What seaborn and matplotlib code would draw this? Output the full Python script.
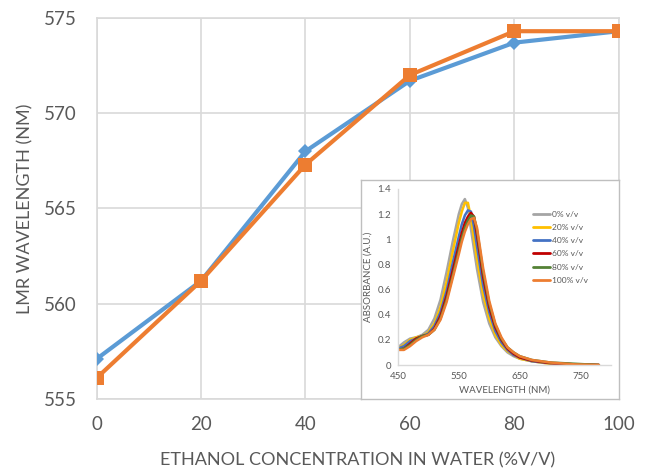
import matplotlib
matplotlib.use("Agg")
import matplotlib.pyplot as plt
from matplotlib.lines import Line2D
from matplotlib.ticker import FuncFormatter
import numpy as np
import pandas as pd
import seaborn as sns

# Main chart data
concentration = [0, 20, 40, 60, 80, 100]
lmr_blue = [557.1, 561.2, 568.0, 571.7, 573.7, 574.3]
lmr_orange = [556.1, 561.2, 567.3, 572.0, 574.3, 574.3]

# Inset spectra
wavelength = [450, 460, 470, 480, 490, 500, 510, 520, 530, 540, 550, 555, 560,
              565, 570, 575, 580, 590, 600, 610, 620, 630, 640, 650, 670, 700,
              740, 780]
abs_0 = [0.14, 0.18, 0.21, 0.22, 0.24, 0.28, 0.37, 0.52, 0.74, 0.98, 1.20, 1.28,
         1.32, 1.25, 1.08, 0.92, 0.76, 0.50, 0.33, 0.22, 0.15, 0.10, 0.07, 0.05,
         0.03, 0.01, 0.005, 0.0]
abs_20 = [0.13, 0.16, 0.20, 0.22, 0.23, 0.26, 0.33, 0.46, 0.66, 0.90, 1.13, 1.22,
          1.29, 1.29, 1.17, 1.00, 0.84, 0.56, 0.37, 0.24, 0.16, 0.11, 0.08, 0.05,
          0.03, 0.01, 0.005, 0.0]
abs_40 = [0.13, 0.15, 0.19, 0.21, 0.23, 0.25, 0.31, 0.42, 0.59, 0.81, 1.02, 1.12,
          1.19, 1.23, 1.22, 1.10, 0.94, 0.63, 0.42, 0.27, 0.18, 0.12, 0.08, 0.06,
          0.03, 0.015, 0.005, 0.0]
abs_60 = [0.12, 0.13, 0.17, 0.21, 0.23, 0.24, 0.29, 0.39, 0.55, 0.75, 0.95, 1.05,
          1.13, 1.18, 1.21, 1.18, 1.03, 0.70, 0.46, 0.30, 0.20, 0.13, 0.09, 0.06,
          0.035, 0.015, 0.005, 0.0]
abs_80 = [0.12, 0.13, 0.16, 0.20, 0.23, 0.24, 0.28, 0.37, 0.52, 0.71, 0.91, 1.01,
          1.09, 1.15, 1.19, 1.18, 1.07, 0.74, 0.49, 0.32, 0.21, 0.14, 0.10, 0.07,
          0.04, 0.02, 0.01, 0.0]
abs_100 = [0.12, 0.12, 0.15, 0.19, 0.22, 0.24, 0.28, 0.36, 0.50, 0.69, 0.88, 0.98,
           1.06, 1.12, 1.16, 1.17, 1.09, 0.77, 0.51, 0.33, 0.22, 0.14, 0.10, 0.07,
           0.04, 0.02, 0.005, 0.0]
spectra_labels = ['0% v/v', '20% v/v', '40% v/v', '60% v/v', '80% v/v', '100% v/v']

sns.set_theme(style='white')
plt.rcParams['font.family'] = ['Lato', 'DejaVu Sans']

txt = '#595959'
gridc = '#d9d9d9'
blue = '#5b9bd5'
orange = '#ed7d31'
spec_colors = ['#a5a5a5', '#ffc000', '#4472c4', '#c00000', '#548235', '#ed7d31']

fig = plt.figure(figsize=(6.48, 4.70), dpi=100)
ax = fig.add_axes([0.149, 0.151, 0.806, 0.811])

main = pd.DataFrame({'conc': concentration, 'blue': lmr_blue, 'orange': lmr_orange})
sns.lineplot(data=main, x='conc', y='blue', ax=ax, color=blue, lw=3,
             marker='D', markersize=7, markeredgewidth=0, zorder=3)
sns.lineplot(data=main, x='conc', y='orange', ax=ax, color=orange, lw=3,
             marker='s', markersize=10, markeredgewidth=0, zorder=4)

ax.set_xlim(0, 100)
ax.set_ylim(555, 575)
ax.set_xticks(concentration)
ax.set_yticks([555, 560, 565, 570, 575])
ax.grid(True, color=gridc, lw=1.2)
for s in ax.spines.values():
    s.set_color(gridc)
    s.set_linewidth(1.2)
ax.tick_params(length=0, labelsize=13.5, colors=txt)
ax.tick_params(axis='y', pad=14)
ax.tick_params(axis='x', pad=12)
ax.set_xlabel('ETHANOL CONCENTRATION IN WATER (%V/V)', fontsize=13, color=txt, labelpad=14)
ax.set_ylabel('LMR WAVELENGTH (NM)', fontsize=13, color=txt, labelpad=8)

# Inset frame
frame = fig.add_axes([0.557, 0.151, 0.398, 0.466])
frame.set_xticks([])
frame.set_yticks([])
frame.set_facecolor('white')
for s in frame.spines.values():
    s.set_color('#bfbfbf')
    s.set_linewidth(1)
frame.set_zorder(5)

ins = fig.add_axes([0.614, 0.2234, 0.329, 0.3745])
ins.set_zorder(6)
ins.patch.set_alpha(0)

all_abs = [abs_0, abs_20, abs_40, abs_60, abs_80, abs_100]
spec = pd.concat([pd.DataFrame({'wl': wavelength, 'A': a, 'conc': lab})
                  for a, lab in zip(all_abs, spectra_labels)])
sns.lineplot(data=spec, x='wl', y='A', hue='conc', hue_order=spectra_labels,
             palette=dict(zip(spectra_labels, spec_colors)), ax=ins, lw=1.8,
             sort=False, legend=False)

ins.set_xlim(450, 800)
ins.set_ylim(0, 1.4)
ins.set_xticks([450, 550, 650, 750])
ins.set_yticks(np.arange(0, 1.41, 0.2))
ins.yaxis.set_major_formatter(FuncFormatter(lambda v, p: f'{v:g}' if v else '0'))
for s in ['top', 'right']:
    ins.spines[s].set_visible(False)
for s in ['left', 'bottom']:
    ins.spines[s].set_color(gridc)
    ins.spines[s].set_linewidth(1)
ins.tick_params(length=0, labelsize=7, colors=txt, pad=5)
ins.set_xlabel('WAVELENGTH (NM)', fontsize=7, color=txt, labelpad=3)
ins.set_ylabel('ABSORBANCE (A.U.)', fontsize=7, color=txt, labelpad=3)

handles = [Line2D([], [], color=c, lw=2) for c in spec_colors]
ins.legend(handles, spectra_labels, loc='upper left', bbox_to_anchor=(0.6, 0.92),
           frameon=False, fontsize=6, handlelength=2.0, handletextpad=0.3,
           labelspacing=0.75, labelcolor=txt)

fig.savefig('out.png', dpi=100)
